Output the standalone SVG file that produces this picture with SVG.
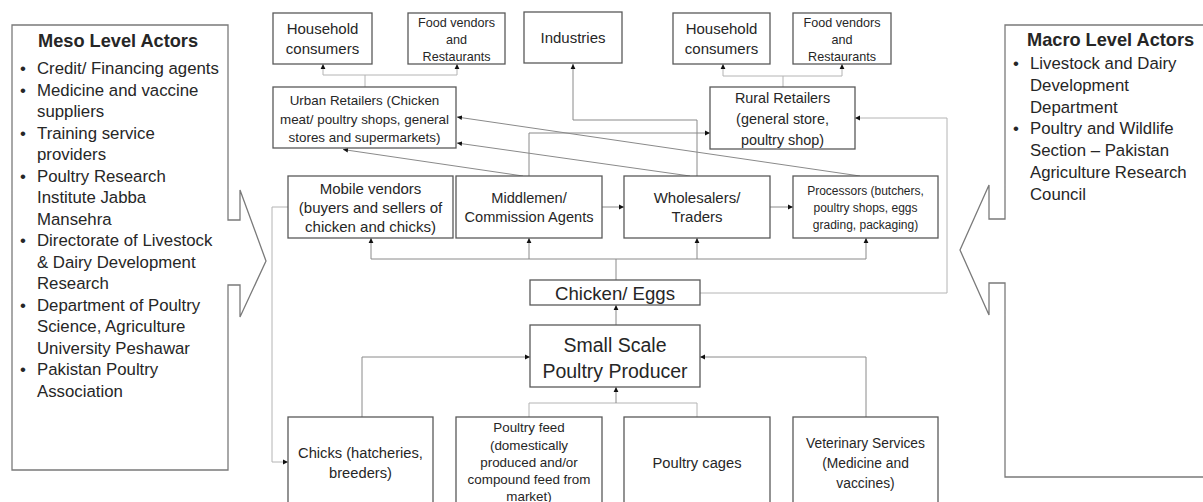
<svg xmlns="http://www.w3.org/2000/svg" width="1203" height="502" viewBox="0 0 1203 502">
  <style>
    text { font-family: "Liberation Sans", Arial, sans-serif; fill: #262626; }
    .box { fill: #ffffff; stroke: #595959; stroke-width: 1.3; }
    .panel { fill: #ffffff; stroke: #7a7a7a; stroke-width: 1.3; }
    .ctr { text-anchor: middle; }
    .title { font-weight: bold; font-size: 18.2px; }
    .item { font-size: 16.8px; }
    .n15 { font-size: 15px; }
    .n13 { font-size: 12.6px; }
    .n14 { font-size: 14.4px; }
    .n12 { font-size: 12px; }
    .big { font-size: 18.6px; }
    .big2 { font-size: 19.5px; }
    .feed { font-size: 13.4px; }
    .link { fill: none; stroke: #8a8a8a; stroke-width: 1; }
    .link.light { stroke: #b4b4b4; }
  </style>
  <defs>
    <marker id="arrow" markerUnits="userSpaceOnUse" markerWidth="6" markerHeight="6" refX="5" refY="3" orient="auto">
      <path d="M0,0.6 L5,3 L0,5.4 Z" fill="#111111"/>
    </marker>
  </defs>

  <rect width="1203" height="502" fill="#ffffff"/>

  <!-- Meso level actors panel with callout pointer -->
  <g id="meso-actors">
    <path class="panel" d="M12,25 H228 V220 H240 V190 L266,261 L240,317 V285 H228 V470 H12 Z"/>
    <text class="title" x="38" y="47">Meso Level Actors</text>
    <g class="item">
      <text x="20" y="74">•</text><text x="37" y="74">Credit/ Financing agents</text>
      <text x="20" y="95.5">•</text><text x="37" y="95.5">Medicine and vaccine</text>
      <text x="37" y="117">suppliers</text>
      <text x="20" y="138.5">•</text><text x="37" y="138.5">Training service</text>
      <text x="37" y="160">providers</text>
      <text x="20" y="181.5">•</text><text x="37" y="181.5">Poultry Research</text>
      <text x="37" y="203">Institute Jabba</text>
      <text x="37" y="224.5">Mansehra</text>
      <text x="20" y="246">•</text><text x="37" y="246">Directorate of Livestock</text>
      <text x="37" y="267.5">&amp; Dairy Development</text>
      <text x="37" y="289">Research</text>
      <text x="20" y="310.5">•</text><text x="37" y="310.5">Department of Poultry</text>
      <text x="37" y="332">Science, Agriculture</text>
      <text x="37" y="353.5">University Peshawar</text>
      <text x="20" y="375">•</text><text x="37" y="375">Pakistan Poultry</text>
      <text x="37" y="396.5">Association</text>
    </g>
  </g>

  <!-- Macro level actors panel with callout pointer -->
  <g id="macro-actors">
    <path class="panel" d="M1215,25 H1005 V219 H989 V185 L960,250 L989,315 V283 H1005 V477 H1215"/>
    <text class="title" x="1027" y="46">Macro Level Actors</text>
    <g class="item">
      <text x="1013" y="69">•</text><text x="1030" y="69">Livestock and Dairy</text>
      <text x="1030" y="90.8">Development</text>
      <text x="1030" y="112.6">Department</text>
      <text x="1013" y="134.4">•</text><text x="1030" y="134.4">Poultry and Wildlife</text>
      <text x="1030" y="156.2">Section – Pakistan</text>
      <text x="1030" y="178">Agriculture Research</text>
      <text x="1030" y="199.8">Council</text>
    </g>
  </g>

  <!-- Connectors -->
  <g id="connectors">
    <path class="link light" d="M365,87 V75 H323 V64" marker-end="url(#arrow)"/>
    <path class="link light" d="M365,75 H457 V64" marker-end="url(#arrow)"/>
    <path class="link light" d="M783,87 V76 H723 V64" marker-end="url(#arrow)"/>
    <path class="link light" d="M783,76 H842 V64" marker-end="url(#arrow)"/>
    <path class="link" d="M697,176 V120 H573 V64" marker-end="url(#arrow)"/>
    <path class="link" d="M529,176 V133 H710" marker-end="url(#arrow)"/>
    <path class="link" d="M860,176 L457,117" marker-end="url(#arrow)"/>
    <path class="link" d="M690,176 L457,143" marker-end="url(#arrow)"/>
    <path class="link" d="M523,176 L343,149.5" marker-end="url(#arrow)"/>
    <path class="link" d="M602,207 H624" marker-end="url(#arrow)"/>
    <path class="link" d="M770,207 H793" marker-end="url(#arrow)"/>
    <path class="link" d="M616,280 V259 H371 V238" marker-end="url(#arrow)"/>
    <path class="link" d="M529,259 V238" marker-end="url(#arrow)"/>
    <path class="link" d="M616,259 H866 V238" marker-end="url(#arrow)"/>
    <path class="link" d="M697,259 V238" marker-end="url(#arrow)"/>
    <path class="link light" d="M700,293 H947 V118 H855" marker-end="url(#arrow)"/>
    <path class="link" d="M616,325 V305" marker-end="url(#arrow)"/>
    <path class="link light" d="M288,207 H272 V462 H288" marker-end="url(#arrow)"/>
    <path class="link" d="M362,417 V357 H530" marker-end="url(#arrow)"/>
    <path class="link" d="M866,417 V357 H700" marker-end="url(#arrow)"/>
    <path class="link light" d="M529,417 V403 H697 V417"/>
    <path class="link" d="M616,403 V387" marker-end="url(#arrow)"/>
  </g>

  <!-- Consumers and end users -->
  <g id="household-urban">
    <rect class="box" x="273" y="13" width="99" height="51"/>
    <text class="ctr n15" x="322.5" y="34">Household</text>
    <text class="ctr n15" x="322.5" y="54">consumers</text>
  </g>
  <g id="food-vendors-urban">
    <rect class="box" x="408" y="13" width="97" height="51"/>
    <text class="ctr n13" x="456.5" y="27">Food vendors</text>
    <text class="ctr n13" x="456.5" y="44">and</text>
    <text class="ctr n13" x="456.5" y="61">Restaurants</text>
  </g>
  <g id="industries">
    <rect class="box" x="524" y="12" width="98" height="51"/>
    <text class="ctr n15" x="573" y="43">Industries</text>
  </g>
  <g id="household-rural">
    <rect class="box" x="673" y="13" width="97" height="51"/>
    <text class="ctr n15" x="721.5" y="34">Household</text>
    <text class="ctr n15" x="721.5" y="54">consumers</text>
  </g>
  <g id="food-vendors-rural">
    <rect class="box" x="793" y="13" width="98" height="51"/>
    <text class="ctr n13" x="842" y="27">Food vendors</text>
    <text class="ctr n13" x="842" y="44">and</text>
    <text class="ctr n13" x="842" y="61">Restaurants</text>
  </g>

  <!-- Retailers -->
  <g id="urban-retailers">
    <rect class="box" x="273" y="87" width="183" height="61"/>
    <text class="ctr n14" x="364.5" y="105" style="font-size:13.4px">Urban Retailers (Chicken</text>
    <text class="ctr n14" x="364.5" y="124" style="font-size:13.4px">meat/ poultry shops, general</text>
    <text class="ctr n14" x="364.5" y="142" style="font-size:13.4px">stores and supermarkets)</text>
  </g>
  <g id="rural-retailers">
    <rect class="box" x="710" y="87" width="145" height="62"/>
    <text class="ctr n14" x="782.5" y="103">Rural Retailers</text>
    <text class="ctr n14" x="782.5" y="124">(general store,</text>
    <text class="ctr n14" x="782.5" y="145">poultry shop)</text>
  </g>

  <!-- Intermediaries -->
  <g id="mobile-vendors">
    <rect class="box" x="288" y="176" width="165" height="62"/>
    <text class="ctr n15" x="370.5" y="194">Mobile vendors</text>
    <text class="ctr n15" x="370.5" y="213">(buyers and sellers of</text>
    <text class="ctr n15" x="370.5" y="232">chicken and chicks)</text>
  </g>
  <g id="middlemen">
    <rect class="box" x="456" y="176" width="146" height="62"/>
    <text class="ctr n15" x="529" y="203" style="font-size:14.6px">Middlemen/</text>
    <text class="ctr n15" x="529" y="222" style="font-size:14.6px">Commission Agents</text>
  </g>
  <g id="wholesalers">
    <rect class="box" x="624" y="176" width="146" height="62"/>
    <text class="ctr n15" x="697" y="203">Wholesalers/</text>
    <text class="ctr n15" x="697" y="222">Traders</text>
  </g>
  <g id="processors">
    <rect class="box" x="793" y="176" width="145" height="62"/>
    <text class="ctr n12" x="865.5" y="195">Processors (butchers,</text>
    <text class="ctr n12" x="865.5" y="212">poultry shops, eggs</text>
    <text class="ctr n12" x="865.5" y="229">grading, packaging)</text>
  </g>

  <!-- Products and producer -->
  <g id="chicken-eggs">
    <rect class="box" x="530" y="280" width="170" height="25"/>
    <text class="ctr big" x="615" y="300">Chicken/ Eggs</text>
  </g>
  <g id="producer">
    <rect class="box" x="530" y="325" width="170" height="62"/>
    <text class="ctr big2" x="615" y="352">Small Scale</text>
    <text class="ctr big2" x="615" y="378">Poultry Producer</text>
  </g>

  <!-- Inputs -->
  <g id="chicks">
    <rect class="box" x="288" y="417" width="145" height="95"/>
    <text class="ctr n15" x="360.5" y="458" style="font-size:14.7px">Chicks (hatcheries,</text>
    <text class="ctr n15" x="360.5" y="478" style="font-size:14.7px">breeders)</text>
  </g>
  <g id="poultry-feed">
    <rect class="box" x="456" y="417" width="146" height="95"/>
    <text class="ctr feed" x="529" y="432">Poultry feed</text>
    <text class="ctr feed" x="529" y="450">(domestically</text>
    <text class="ctr feed" x="529" y="467">produced and/or</text>
    <text class="ctr feed" x="529" y="484">compound feed from</text>
    <text class="ctr feed" x="529" y="501">market)</text>
  </g>
  <g id="poultry-cages">
    <rect class="box" x="624" y="417" width="146" height="95"/>
    <text class="ctr n15" x="697" y="468" style="font-size:14.7px">Poultry cages</text>
  </g>
  <g id="veterinary">
    <rect class="box" x="793" y="417" width="145" height="95"/>
    <text class="ctr n14" x="865.5" y="448" style="font-size:13.8px">Veterinary Services</text>
    <text class="ctr n14" x="865.5" y="468" style="font-size:13.8px">(Medicine and</text>
    <text class="ctr n14" x="865.5" y="488" style="font-size:13.8px">vaccines)</text>
  </g>
</svg>
